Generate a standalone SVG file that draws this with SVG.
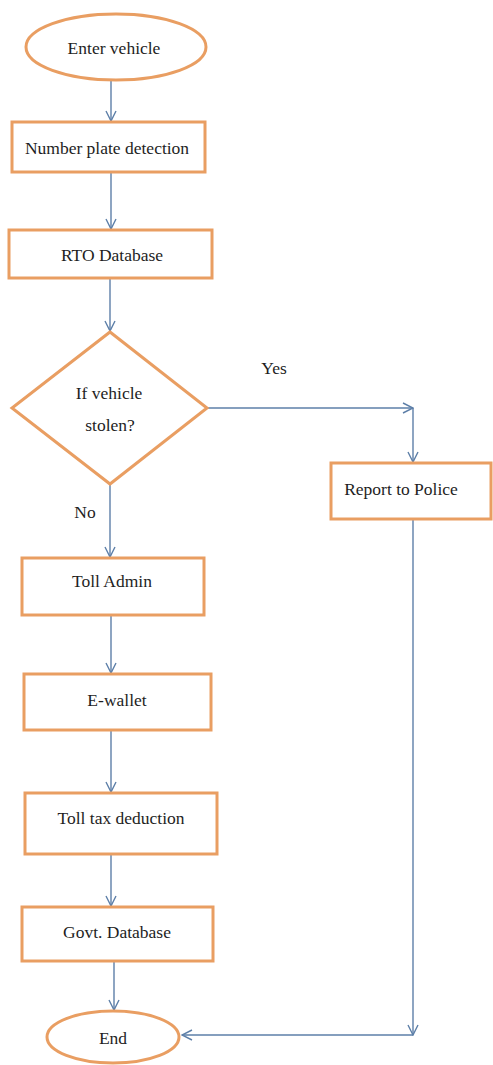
<svg xmlns="http://www.w3.org/2000/svg" width="493" height="1065" viewBox="0 0 493 1065">
<style>
.shape{fill:#ffffff;stroke:#E99E62;stroke-width:3}
.lbl{font-family:"Liberation Serif","Times New Roman",serif;font-size:17.5px;fill:#1e1e1e;text-anchor:middle}
.edge{fill:none;stroke:#5D7FA8;stroke-width:1.4}
</style>
<defs>
<marker id="arr" viewBox="0 0 12 12" refX="11" refY="6" markerWidth="12" markerHeight="12" markerUnits="userSpaceOnUse" orient="auto">
<path d="M1,1 L11,6 L1,11" fill="none" stroke="#5D7FA8" stroke-width="1.4"/>
</marker>
</defs>
<rect width="493" height="1065" fill="#ffffff"/>
<g id="connectors">
<line class="edge" x1="111" y1="80" x2="111" y2="121" marker-end="url(#arr)"/>
<line class="edge" x1="111" y1="172" x2="111" y2="229" marker-end="url(#arr)"/>
<line class="edge" x1="110" y1="278" x2="110" y2="331" marker-end="url(#arr)"/>
<line class="edge" x1="207" y1="408" x2="413" y2="408" marker-end="url(#arr)"/>
<line class="edge" x1="413" y1="408" x2="413" y2="462" marker-end="url(#arr)"/>
<line class="edge" x1="110" y1="484" x2="110" y2="557" marker-end="url(#arr)"/>
<line class="edge" x1="111" y1="615" x2="111" y2="673" marker-end="url(#arr)"/>
<line class="edge" x1="111" y1="730" x2="111" y2="792" marker-end="url(#arr)"/>
<line class="edge" x1="111" y1="854" x2="111" y2="906" marker-end="url(#arr)"/>
<line class="edge" x1="114" y1="961" x2="114" y2="1010" marker-end="url(#arr)"/>
<line class="edge" x1="413" y1="519" x2="413" y2="1035" marker-end="url(#arr)"/>
<line class="edge" x1="413" y1="1035" x2="182" y2="1035" marker-end="url(#arr)"/>
<text class="lbl" x="274" y="374">Yes</text>
<text class="lbl" x="85" y="518">No</text>
</g>
<g id="enter">
<ellipse class="shape" cx="116" cy="47" rx="90" ry="33"/>
<text class="lbl" x="114" y="54">Enter vehicle</text>
</g>
<g id="plate">
<rect class="shape" x="12" y="122" width="193" height="50"/>
<text class="lbl" x="107" y="154">Number plate detection</text>
</g>
<g id="rto">
<rect class="shape" x="9" y="230" width="203" height="48"/>
<text class="lbl" x="112" y="261">RTO Database</text>
</g>
<g id="decision">
<polygon class="shape" points="110,332 207,408 110,484 12,408"/>
<text class="lbl" x="109" y="399">If vehicle</text>
<text class="lbl" x="110" y="431">stolen?</text>
</g>
<g id="police">
<rect class="shape" x="331" y="463" width="160" height="56"/>
<text class="lbl" x="401" y="495">Report to Police</text>
</g>
<g id="tolladmin">
<rect class="shape" x="22" y="558" width="182" height="57"/>
<text class="lbl" x="112" y="587">Toll Admin</text>
</g>
<g id="ewallet">
<rect class="shape" x="24" y="674" width="187" height="56"/>
<text class="lbl" x="117" y="706">E-wallet</text>
</g>
<g id="tolltax">
<rect class="shape" x="25" y="793" width="192" height="61"/>
<text class="lbl" x="121" y="824">Toll tax deduction</text>
</g>
<g id="govt">
<rect class="shape" x="22" y="907" width="191" height="54"/>
<text class="lbl" x="117" y="938">Govt. Database</text>
</g>
<g id="end">
<ellipse class="shape" cx="113" cy="1037" rx="66" ry="26"/>
<text class="lbl" x="113" y="1044">End</text>
</g>
</svg>
